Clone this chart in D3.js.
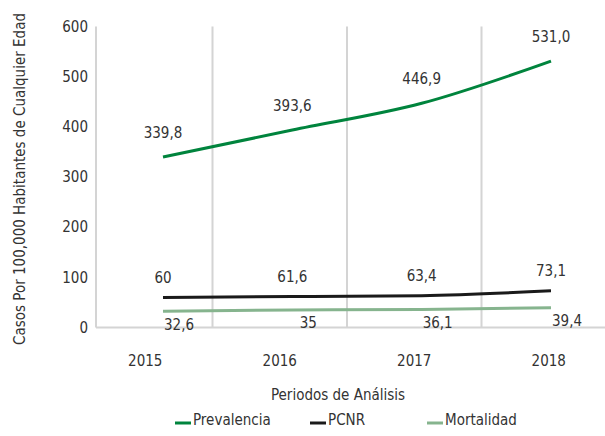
<!DOCTYPE html>
<html>
<head>
<meta charset="utf-8">
<script src="https://cdn.jsdelivr.net/npm/d3@7"></script>
<style>
  body { margin: 0; background: #fff; }
  text { font-family: "Liberation Sans Narrow", "DejaVu Sans Condensed", sans-serif; fill: #333; }
</style>
</head>
<body>
<div id="chart"></div>
<script>
// chart values
const years = ["2015", "2016", "2017", "2018"];
const prevalencia = [339.8, 393.6, 446.9, 531.0];
const pcnr = [60, 61.6, 63.4, 73.1];
const mortalidad = [32.6, 35, 36.1, 39.4];
const yTicks = [0, 100, 200, 300, 400, 500, 600];
const seriesNames = ["Prevalencia", "PCNR", "Mortalidad"];

const W = 605, H = 436;
const fmt = v => (Number.isInteger(v) && v < 100 ? String(v) : d3.format(".1f")(v)).replace(".", ",");

const svg = d3.select("#chart").append("svg")
    .attr("width", W)
    .attr("height", H);

// scales
const y = d3.scaleLinear().domain([0, 600]).range([327.5, 26.5]);
const xBand = d3.scaleBand().domain(years).range([78, 616]).padding(0);
const x = d3.scalePoint().domain(years).range([163, 551]);

// vertical gridlines (category boundaries)
svg.append("g").selectAll("line")
    .data(years.slice(1))
    .join("line")
    .attr("x1", d => xBand(d)).attr("x2", d => xBand(d))
    .attr("y1", y(600)).attr("y2", y(0))
    .attr("stroke", "#d4d4d4").attr("stroke-width", 2);

// value axis line and baseline
svg.append("line")
    .attr("x1", 96).attr("x2", 96)
    .attr("y1", y(600)).attr("y2", y(0))
    .attr("stroke", "#d4d4d4").attr("stroke-width", 2);
svg.append("line")
    .attr("x1", 96).attr("x2", W)
    .attr("y1", y(0)).attr("y2", y(0))
    .attr("stroke", "#d4d4d4").attr("stroke-width", 2);

// y axis labels
const yAxis = svg.append("g")
    .attr("transform", "translate(96,0)")
    .call(d3.axisLeft(y).tickValues(yTicks).tickSize(0).tickPadding(8));
yAxis.select(".domain").remove();
yAxis.selectAll("text")
    .style("font-family", '"Liberation Sans Narrow", "DejaVu Sans Condensed", sans-serif')
    .style("font-size", "15px")
    .attr("fill", "#333");

// x axis labels
const xAxis = svg.append("g")
    .attr("transform", `translate(0,${y(0)})`)
    .call(d3.axisBottom(xBand).tickSize(0).tickPadding(28));
xAxis.select(".domain").remove();
xAxis.selectAll("text")
    .style("font-family", '"Liberation Sans Narrow", "DejaVu Sans Condensed", sans-serif')
    .style("font-size", "15px")
    .attr("fill", "#333");

// lines
const series = [
    { name: seriesNames[0], values: prevalencia, color: "#00843d", dx: 0, dy: -24 },
    { name: seriesNames[1], values: pcnr, color: "#1a1a1a", dx: 0, dy: -19 },
    { name: seriesNames[2], values: mortalidad, color: "#86b48e", dx: 16, dy: 14 }
];

const line = d3.line()
    .x((d, i) => x(years[i]))
    .y(d => y(d))
    .curve(d3.curveMonotoneX);

series.forEach(s => {
    svg.append("path")
        .attr("d", line(s.values))
        .attr("fill", "none")
        .attr("stroke", s.color)
        .attr("stroke-width", 3);

    svg.append("g").selectAll("text")
        .data(s.values)
        .join("text")
        .attr("x", (d, i) => x(years[i]) + s.dx)
        .attr("y", d => y(d) + s.dy)
        .attr("text-anchor", "middle")
        .attr("dominant-baseline", "middle")
        .style("font-size", "15px")
        .text(d => fmt(d));
});

// axis titles
svg.append("text")
    .attr("transform", "translate(20,179) rotate(-90)")
    .attr("text-anchor", "middle")
    .attr("dominant-baseline", "middle")
    .style("font-size", "15px")
    .text("Casos Por 100,000 Habitantes de Cualquier Edad");

svg.append("text")
    .attr("x", 338).attr("y", 395)
    .attr("text-anchor", "middle")
    .attr("dominant-baseline", "middle")
    .style("font-size", "15px")
    .text("Periodos de Análisis");

// legend
const legendX = [175, 310, 427];
series.forEach((s, i) => {
    const g = svg.append("g").attr("transform", `translate(${legendX[i]},423)`);
    g.append("line")
        .attr("x1", 0).attr("x2", 16)
        .attr("stroke", s.color).attr("stroke-width", 3);
    g.append("text")
        .attr("x", 18).attr("y", -3)
        .attr("dominant-baseline", "middle")
        .style("font-size", "15px")
        .text(s.name);
});
</script>
</body>
</html>
